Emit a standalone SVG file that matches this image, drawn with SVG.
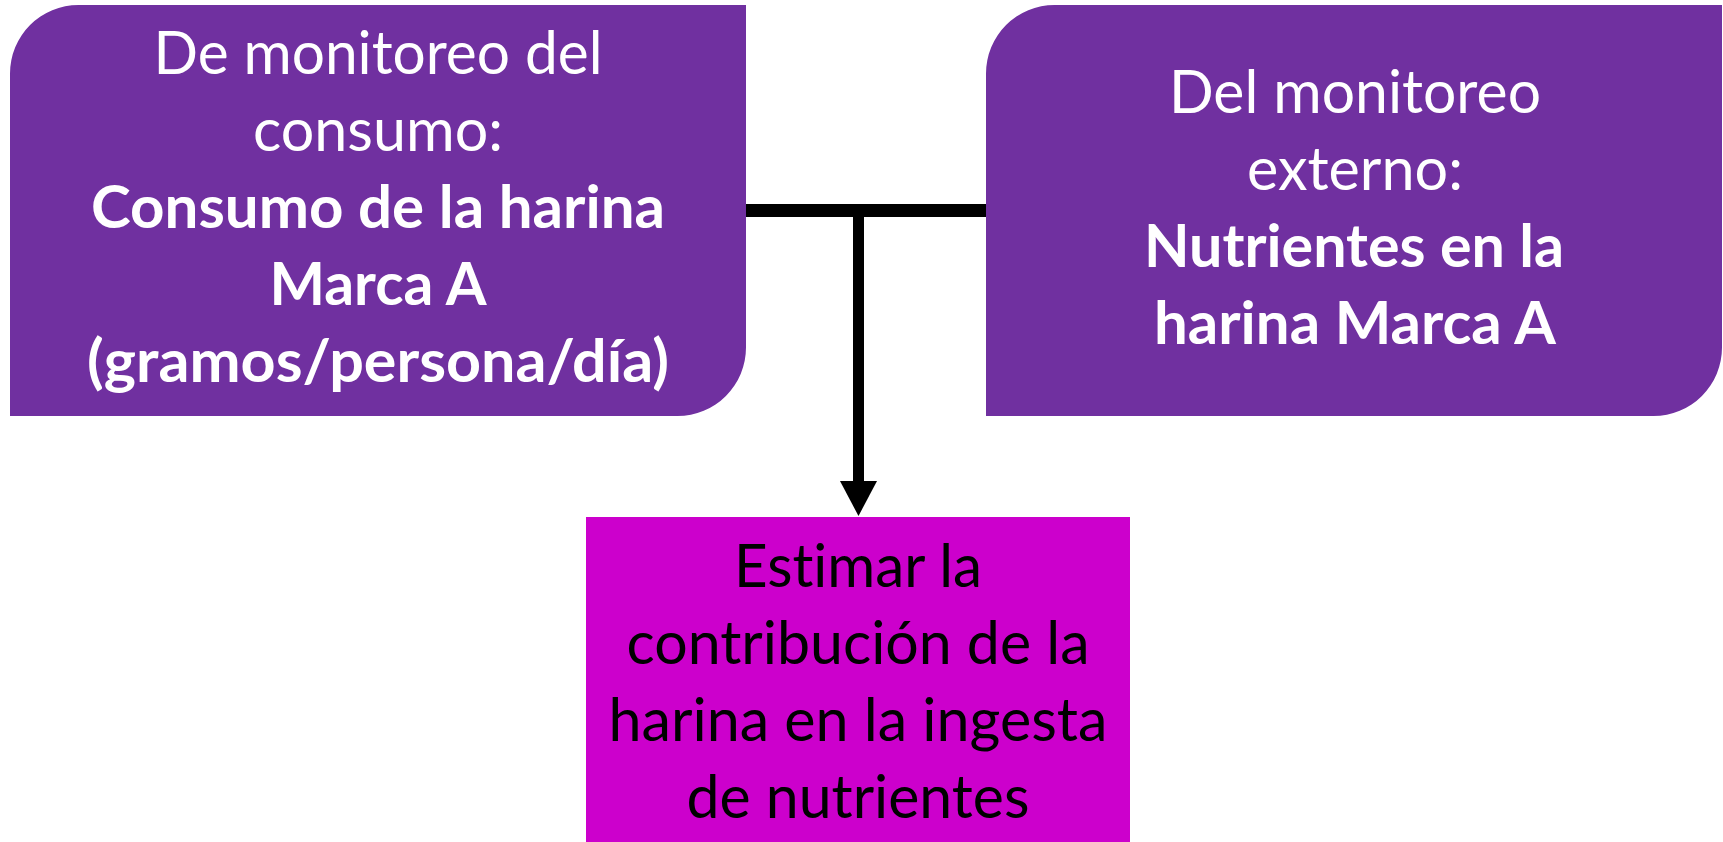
<svg xmlns="http://www.w3.org/2000/svg" width="1723" height="842" viewBox="0 0 1723 842">
<style>
.box{fill:#7030A0}
.res{fill:#CC00CC}
text{font-family:Lato,"Open Sans","Liberation Sans",sans-serif;font-size:60px;text-anchor:middle;font-variant-ligatures:none}
.w{fill:#FFFFFF}
.k{fill:#000000}
.b{font-weight:bold}
.conn{stroke:#000000;fill:none}
</style>
<defs>
<marker id="arrow" markerUnits="userSpaceOnUse" markerWidth="36" markerHeight="37" refX="0" refY="18.5" orient="auto" viewBox="0 0 36 37">
<path d="M0,0 L35,18.5 L0,37 Z" fill="#000000"/>
</marker>
</defs>
<rect width="1723" height="842" fill="#FFFFFF"/>
<g id="connectors">
<line class="conn" x1="746" y1="210.5" x2="986" y2="210.5" stroke-width="13"/>
<line class="conn" x1="858.5" y1="210" x2="858.5" y2="481" stroke-width="11" marker-end="url(#arrow)"/>
</g>
<g id="node-consumo">
<path class="box" d="M78.5,5 H746 V347.5 A68.5,68.5 0 0 1 677.5,416 H10 V73.5 A68.5,68.5 0 0 1 78.5,5 Z"/>
<text class="w" x="378" y="74" textLength="449" lengthAdjust="spacingAndGlyphs">De monitoreo del</text>
<text class="w" x="378" y="151" textLength="250" lengthAdjust="spacingAndGlyphs">consumo:</text>
<text class="w b" x="378" y="228" textLength="574" lengthAdjust="spacingAndGlyphs">Consumo de la harina</text>
<text class="w b" x="378" y="305" textLength="217" lengthAdjust="spacingAndGlyphs">Marca A</text>
<text class="w b" x="378" y="382" textLength="582" lengthAdjust="spacingAndGlyphs">(gramos/persona/día)</text>
</g>
<g id="node-externo">
<path class="box" d="M1054.5,5 H1722 V347.5 A68.5,68.5 0 0 1 1653.5,416 H986 V73.5 A68.5,68.5 0 0 1 1054.5,5 Z"/>
<text class="w" x="1355" y="113" textLength="372" lengthAdjust="spacingAndGlyphs">Del monitoreo</text>
<text class="w" x="1355" y="190" textLength="216" lengthAdjust="spacingAndGlyphs">externo:</text>
<text class="w b" x="1354" y="267" textLength="420" lengthAdjust="spacingAndGlyphs">Nutrientes en la</text>
<text class="w b" x="1355" y="344" textLength="402" lengthAdjust="spacingAndGlyphs">harina Marca A</text>
</g>
<g id="node-estimar">
<rect class="res" x="586" y="517" width="544" height="330"/>
<text class="k" x="858" y="587" textLength="248" lengthAdjust="spacingAndGlyphs">Estimar la</text>
<text class="k" x="858" y="664" textLength="463" lengthAdjust="spacingAndGlyphs">contribución de la</text>
<text class="k" x="858" y="741" textLength="499" lengthAdjust="spacingAndGlyphs">harina en la ingesta</text>
<text class="k" x="858" y="818" textLength="343" lengthAdjust="spacingAndGlyphs">de nutrientes</text>
</g>
</svg>
